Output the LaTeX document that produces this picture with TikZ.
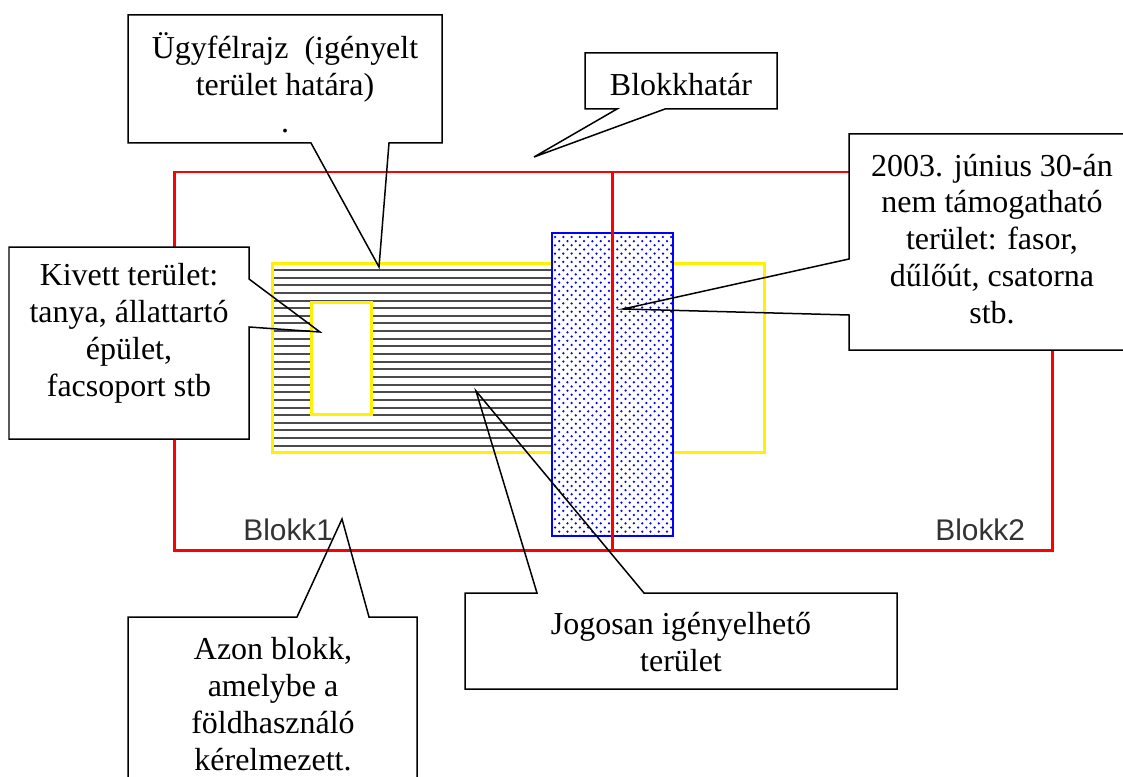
\documentclass[tikz,border=0pt]{standalone}
\usepackage{fontspec}
\setmainfont{Liberation Serif}
\newfontfamily\blokkfont{Liberation Sans}
\begin{document}
\begin{tikzpicture}[x=0.02cm,y=-0.02cm,
  redline/.style={draw=red,line width=0.06cm},
  yelline/.style={draw=yellow,line width=0.06cm},
  hatchline/.style={draw=black!70,line width=0.04cm},
  blueline/.style={draw=blue,line width=0.04cm},
  dotfill/.style={fill=blue},
  callout/.style={draw=black,line width=0.03cm,line join=miter},
  cbox/.style={fill=white},
  ctext/.style={align=center,font=\fontsize{18.2}{21}\selectfont,inner sep=0pt},
  blabel/.style={font=\blokkfont\fontsize{17}{20}\selectfont,text=black!80,inner sep=0pt,anchor=base west}]
\useasboundingbox (0,0) rectangle (1123,777);
\clip (0,0) rectangle (1123,777);
% hatched claimed area
\foreach \k in {0,...,23} {
  \draw[hatchline] (273.5,{270+7.64*\k}) -- (552,{270+7.64*\k});
}
\fill[white] (311,302) rectangle (371,414);
\draw[yelline] (272,263) rectangle (764,452);
\draw[yelline] (311,302) rectangle (371,414);
% blue dotted strip
\fill[white] (552,233) rectangle (673,536);
\begin{scope}
  \clip (553,234) rectangle (672,535);
  \foreach \j in {0,...,72} {
    \foreach \i in {0,...,14} {
      \fill[dotfill] ({555+8.3*\i+4.15*mod(\j,2)},{237+4.15*\j}) circle (0.025cm);
    }
  }
\end{scope}
\draw[blueline] (552,233) rectangle (673,536);
% block borders
\draw[redline] (174,172) rectangle (1052,550);
\draw[redline] (612,172) -- (612,550);
\node[blabel] (b1) at (243,540) {Blokk1};
\node[blabel] (b2) at (935,540) {Blokk2};
% callout: Ugyfelrajz
\fill[cbox] (128,15) rectangle (442,143);
\draw[callout] (128,15) -- (442,15) -- (442,143) -- (389,143) -- (379,267) -- (311,143) -- (128,143) -- cycle;
\node[ctext] (t1) at (285,83) {Ügyfélrajz~ (igényelt\\terület határa)\\.};
% callout: Blokkhatar
\fill[cbox] (585,53) rectangle (777,109);
\draw[callout] (585,53) -- (777,53) -- (777,109) -- (665,109) -- (534,157) -- (617,109) -- (585,109) -- cycle;
\node[ctext] (t2) at (681,85) {Blokkhatár};
% callout: Kivett
\fill[cbox] (9,247) rectangle (249,439);
\draw[callout] (9,247) -- (249,247) -- (249,279) -- (320,332) -- (249,327) -- (249,439) -- (9,439) -- cycle;
\node[ctext] (t3) at (129,333) {Kivett terület:\\tanya, állattartó\\épület,\\facsoport stb};
% callout: 2003
\fill[cbox] (849,134) rectangle (1140,350);
\draw[callout] (849,134) -- (1140,134) -- (1140,350) -- (849,350) -- (849,315) -- (623,309) -- (849,259) -- cycle;
\node[ctext] (t4) at (992,239) {2003. június 30-án\\nem támogatható\\terület: fasor,\\dűlőút, csatorna\\stb.};
% callout: Azon blokk
\fill[cbox] (128,617) rectangle (417,800);
\draw[callout] (128,800) -- (128,617) -- (297,617) -- (342,519) -- (369,617) -- (417,617) -- (417,800);
\node[ctext] (t5) at (273,704) {Azon blokk,\\amelybe a\\földhasználó\\kérelmezett.};
% callout: Jogosan
\fill[cbox] (465,593) rectangle (897,689);
\draw[callout] (465,593) -- (537,593) -- (476,391) -- (644,593) -- (897,593) -- (897,689) -- (465,689) -- cycle;
\node[ctext] (t6) at (681,642) {Jogosan igényelhető\\terület};
\end{tikzpicture}
\end{document}
